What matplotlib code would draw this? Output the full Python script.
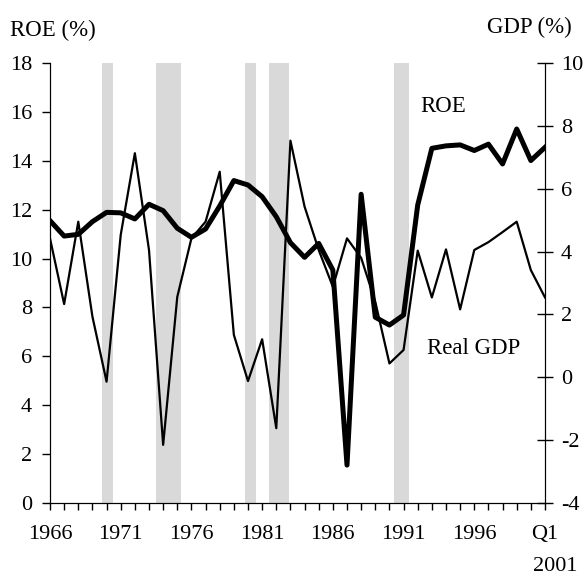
import matplotlib
matplotlib.use("Agg")
import matplotlib.pyplot as plt
import matplotlib.transforms as mtransforms

plt.rcParams['font.family'] = ['Liberation Serif', 'DejaVu Serif']

# data, one point per year 1966..2001
years = list(range(1966, 2002))
roe = [11.55, 10.92, 10.99, 11.51, 11.89, 11.87, 11.62, 12.22, 11.96, 11.24,
       10.87, 11.21, 12.15, 13.19, 13.01, 12.53, 11.71, 10.65, 10.05, 10.62,
       9.53, 1.55, 12.63, 7.60, 7.28, 7.69, 12.19, 14.51, 14.61, 14.65,
       14.42, 14.68, 13.87, 15.30, 14.01, 14.55]
gdp = [4.42, 2.33, 4.95, 1.93, -0.14, 4.53, 7.13, 4.05, -2.15, 2.56,
       4.42, 4.95, 6.54, 1.35, -0.12, 1.21, -1.62, 7.53, 5.43, 4.05,
       2.88, 4.42, 3.80, 2.40, 0.44, 0.87, 4.03, 2.54, 4.07, 2.16,
       4.05, 4.30, 4.62, 4.95, 3.41, 2.54]
recessions = [(1969.7, 1970.45), (1973.5, 1975.24), (1979.8, 1980.57),
              (1981.5, 1982.9), (1990.33, 1991.4)]
xlabel_years = [1966, 1971, 1976, 1981, 1986, 1991, 1996, 2001]
xlabels = ['1966', '1971', '1976', '1981', '1986', '1991', '1996', 'Q1']

fig = plt.figure(figsize=(5.85, 5.76), dpi=100)
ax = fig.add_axes([50 / 585, 1 - 503 / 576, 495 / 585, 440 / 576])
ax2 = ax.twinx()

# recession shading
for a, b in recessions:
    ax.axvspan(a, b, color='#d9d9d9', lw=0, zorder=0)

ax.plot(years, roe, color='black', lw=3.6, zorder=3)
ax2.plot(years, gdp, color='black', lw=1.6, zorder=3)

ax.set_xlim(1966, 2001)
ax.set_ylim(0, 18)
ax2.set_ylim(-4, 10)
ax.set_yticks(range(0, 19, 2))
ax2.set_yticks(range(-4, 11, 2))
ax2.set_yticklabels([str(v) if v >= 0 else '-' + str(-v) for v in range(-4, 11, 2)])
ax.set_xticks(years)
ax.set_xticklabels([])

ax.spines['top'].set_visible(False)
ax2.spines['top'].set_visible(False)

ax.tick_params(axis='x', direction='out', length=5, width=1)
ax.tick_params(axis='y', direction='out', length=6, width=1, pad=7, labelsize=16)
ax2.tick_params(axis='y', direction='inout', length=11, width=1, pad=6, labelsize=16)

# year labels under every 5th tick, last one split over two lines
trans = mtransforms.blended_transform_factory(ax.transData, ax.transAxes)
for xp, lab in zip(xlabel_years, xlabels):
    ax.text(xp, -0.071, lab, transform=trans, ha='center', va='center', fontsize=16)
ax.text(xlabel_years[-1] + 0.7, -0.145, '2001', transform=trans,
        ha='center', va='center', fontsize=16)

fig.text(10 / 585, 1 - 30 / 576, 'ROE (%)', ha='left', va='center', fontsize=16.5)
fig.text(487 / 585, 1 - 27 / 576, 'GDP (%)', ha='left', va='center', fontsize=16.5)

ax.text(1992.17, 16.24, 'ROE', ha='left', va='center', fontsize=16.5)
ax.text(1992.66, 6.3, 'Real GDP', ha='left', va='center', fontsize=16.5)

fig.savefig('out.png', dpi=100)
